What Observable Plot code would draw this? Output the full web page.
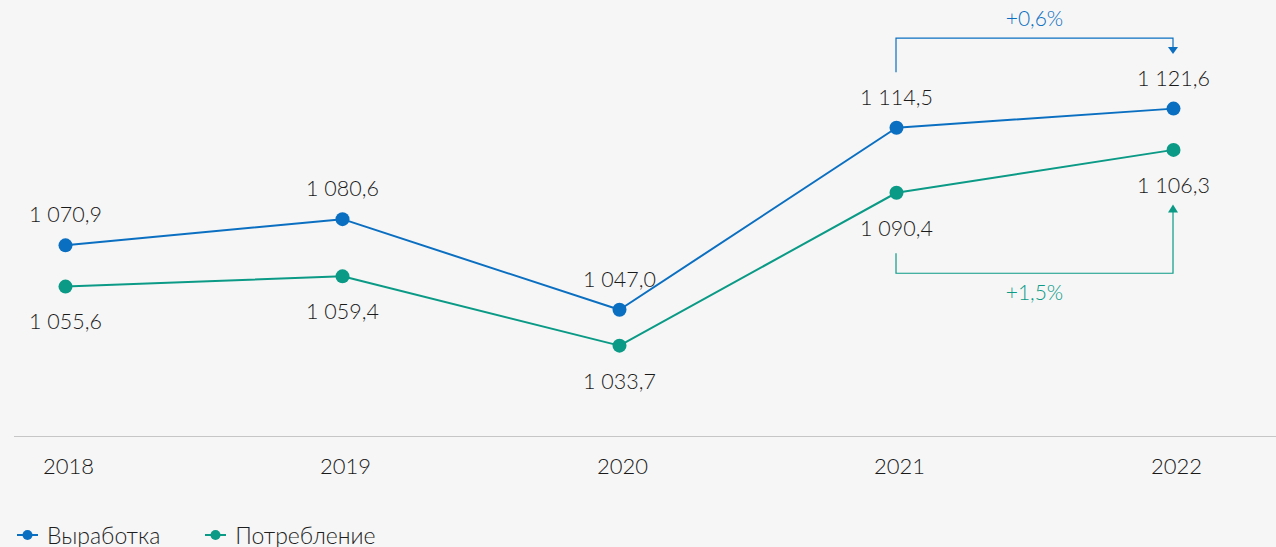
<!DOCTYPE html>
<html><head><meta charset="utf-8">
<script src="https://cdn.jsdelivr.net/npm/d3@7"></script>
<script src="https://cdn.jsdelivr.net/npm/@observablehq/plot@0.6"></script>
<style>
html,body{margin:0;padding:0;background:#f6f6f6;}
body{width:1276px;height:547px;overflow:hidden;font-family:Lato,"Noto Sans",sans-serif;}
#chart svg{display:block;background:#f6f6f6;}
#legend{display:flex;align-items:center;height:33px;padding-left:17px;font-size:23px;color:#1e1e1e;font-weight:300;}
.item{display:flex;align-items:center;margin-right:45px;}
.item svg{margin-right:9px;}
</style></head><body>
<div id="chart"></div>
<div id="legend"></div>
<script>
const years = [2018, 2019, 2020, 2021, 2022];
const production = [1070.9, 1080.6, 1047.0, 1114.5, 1121.6];
const consumption = [1055.6, 1059.4, 1033.7, 1090.4, 1106.3];
const seriesNames = ["Выработка", "Потребление"];
const seriesColors = ["#0b6fc1", "#0a9a86"];

const loc = d3.formatLocale({decimal: ",", thousands: "\u00a0", grouping: [3], currency: ["", ""]});
const fmt = loc.format(",.1f");
const fmtP = loc.format(".1f");

const rows = [];
years.forEach((yr, i) => {
  rows.push({year: yr, value: production[i], series: seriesNames[0]});
  rows.push({year: yr, value: consumption[i], series: seriesNames[1]});
});
const prodRows = rows.filter(d => d.series === seriesNames[0]);
const consRows = rows.filter(d => d.series === seriesNames[1]);

const pctProd = "+" + fmtP((production[4] / production[3] - 1) * 100) + "%";
const pctCons = "+" + fmtP((consumption[4] / consumption[3] - 1) * 100) + "%";

function brackets(index, scales) {
  const x = scales.x, y = scales.y;
  const g = d3.create("svg:g").attr("fill", "none").attr("stroke-width", 1.2);
  const xa = x(years[3]), xb = x(years[4]);
  // production bracket (above)
  {
    const c = seriesColors[0];
    const s = y(production[3]) - 55, t = y(production[4]) - 54;
    const top = Math.min(s, t) - 16;
    g.append("path").attr("stroke", c)
      .attr("d", `M${xa},${s}V${top}H${xb}V${t - 6}`);
    g.append("path").attr("fill", c).attr("stroke", "none")
      .attr("d", `M${xb - 5},${t - 7}L${xb + 5},${t - 7}L${xb},${t}Z`);
    g.append("text").attr("fill", c).attr("stroke", "none")
      .attr("x", (xa + xb) / 2).attr("y", top - 17)
      .attr("text-anchor", "middle").attr("dominant-baseline", "middle")
      .attr("font-size", 21).attr("font-weight", 300).text(pctProd);
  }
  // consumption bracket (below)
  {
    const c = seriesColors[1];
    const s = y(consumption[3]) + 61, t = y(consumption[4]) + 55;
    const bot = Math.max(s, t) + 20;
    g.append("path").attr("stroke", c)
      .attr("d", `M${xa},${s}V${bot}H${xb}V${t + 6}`);
    g.append("path").attr("fill", c).attr("stroke", "none")
      .attr("d", `M${xb - 5},${t + 8}L${xb + 5},${t + 8}L${xb},${t}Z`);
    g.append("text").attr("fill", c).attr("stroke", "none")
      .attr("x", (xa + xb) / 2).attr("y", bot + 22)
      .attr("text-anchor", "middle").attr("dominant-baseline", "middle")
      .attr("font-size", 21).attr("font-weight", 300).text(pctCons);
  }
  return g.node();
}

const chart = Plot.plot({
  width: 1276,
  height: 518,
  marginTop: 0,
  marginBottom: 82,
  marginLeft: 65,
  marginRight: 103,
  style: {background: "#f6f6f6", fontFamily: "Lato, 'Noto Sans', sans-serif", fontSize: "21px", color: "#1e1e1e"},
  x: {type: "point", domain: years, padding: 0, axis: null},
  y: {domain: [1000, 1161.7], axis: null},
  color: {domain: seriesNames, range: seriesColors},
  marks: [
    Plot.ruleY([1000], {stroke: "#c6c6c6", strokeWidth: 1, insetLeft: -51, insetRight: -103}),
    Plot.text(years, {x: d => d, frameAnchor: "bottom", dy: 37, dx: 3, text: d => String(d), fontSize: 22, fill: "#1a1a1a", fontWeight: 300}),
    Plot.line(rows, {x: "year", y: "value", stroke: "series", strokeWidth: 2}),
    Plot.dot(rows, {x: "year", y: "value", fill: "series", r: 7}),
    Plot.text(prodRows, {x: "year", y: "value", text: d => fmt(d.value), dy: -30, fontSize: 21.5, fill: "#1a1a1a", fontWeight: 300}),
    Plot.text(consRows, {x: "year", y: "value", text: d => fmt(d.value), dy: 36, fontSize: 21.5, fill: "#1a1a1a", fontWeight: 300}),
    brackets
  ]
});
document.getElementById("chart").appendChild(chart);

const legend = d3.select("#legend");
seriesNames.forEach((name, i) => {
  const it = legend.append("div").attr("class", "item");
  const s = it.append("svg").attr("width", 21).attr("height", 12);
  s.append("line").attr("x1", 0).attr("x2", 21).attr("y1", 6).attr("y2", 6).attr("stroke", seriesColors[i]).attr("stroke-width", 2);
  s.append("circle").attr("cx", 10.5).attr("cy", 6).attr("r", 5).attr("fill", seriesColors[i]);
  it.append("span").text(name);
});
</script>
</body></html>
